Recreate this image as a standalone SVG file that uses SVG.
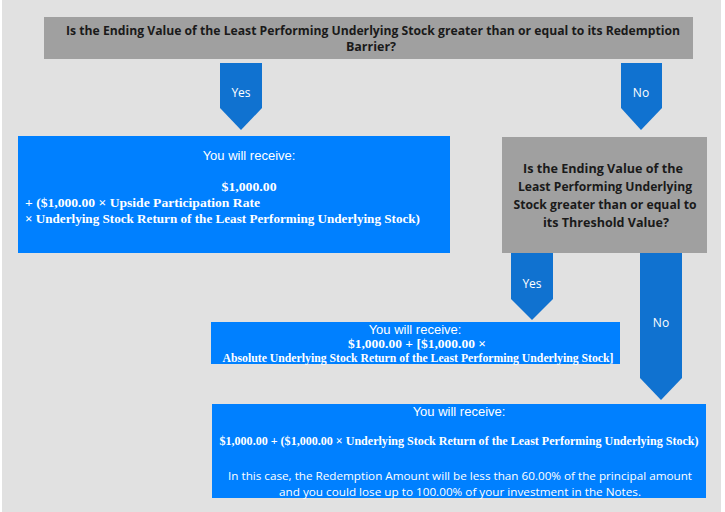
<svg xmlns="http://www.w3.org/2000/svg" width="725" height="512" viewBox="0 0 725 512">
<style>
.bg{fill:#e1e1e1}
.q{fill:#a0a0a0}
.box{fill:#0080ff}
.arr{fill:#1072d0}
.qt{font-family:"Open Sans","Liberation Sans",sans-serif;font-weight:bold;font-size:12.5px;fill:#1a1a1a;text-anchor:middle}
.al{font-family:"Open Sans","Liberation Sans",sans-serif;font-size:12px;fill:#ffffff;text-anchor:middle}
.h{font-family:"Liberation Sans",Arial,sans-serif;font-size:13px;fill:#ffffff;text-anchor:middle}
.f{font-family:"Liberation Serif","DejaVu Serif",serif;font-weight:bold;font-size:12px;fill:#ffffff}
.c{text-anchor:middle}
.n{font-family:"Open Sans","Liberation Sans",sans-serif;font-size:11px;fill:#ffffff;text-anchor:middle}
</style>
<rect class="bg" x="2" y="0" width="719" height="512"/>
<g id="connectors">
<path class="arr" d="M220,63 H262 V108 L241,130 L220,108 Z"/>
<text class="al" x="241" y="97">Yes</text>
<path class="arr" d="M621,63 H662 V108 L641,130 L621,108 Z"/>
<text class="al" x="641" y="97">No</text>
<path class="arr" d="M511,253 H553 V299 L532,320 L511,299 Z"/>
<text class="al" x="532" y="288">Yes</text>
<path class="arr" d="M640,253 H682 V378 L661,400 L640,378 Z"/>
<text class="al" x="661" y="327">No</text>
</g>
<g id="q1">
<rect class="q" x="44" y="17" width="649" height="42"/>
<text class="qt" x="373" y="35" textLength="614" lengthAdjust="spacingAndGlyphs">Is the Ending Value of the Least Performing Underlying Stock greater than or equal to its Redemption</text>
<text class="qt" x="371" y="51">Barrier?</text>
</g>
<g id="yes1">
<rect class="box" x="18" y="136" width="432" height="117"/>
<text class="h" x="249" y="160">You will receive:</text>
<text class="f c" x="249" y="191" textLength="55" lengthAdjust="spacingAndGlyphs">$1,000.00</text>
<text class="f" x="25" y="207" textLength="235" lengthAdjust="spacingAndGlyphs">+ ($1,000.00 × Upside Participation Rate</text>
<text class="f" x="25" y="223" textLength="395" lengthAdjust="spacingAndGlyphs">× Underlying Stock Return of the Least Performing Underlying Stock)</text>
</g>
<g id="q2">
<rect class="q" x="502" y="137" width="205" height="116"/>
<text class="qt" x="603" y="173" textLength="160" lengthAdjust="spacingAndGlyphs">Is the Ending Value of the</text>
<text class="qt" x="605" y="191" textLength="174" lengthAdjust="spacingAndGlyphs">Least Performing Underlying</text>
<text class="qt" x="605" y="209" textLength="183" lengthAdjust="spacingAndGlyphs">Stock greater than or equal to</text>
<text class="qt" x="606" y="227" textLength="126" lengthAdjust="spacingAndGlyphs">its Threshold Value?</text>
</g>
<g id="yes2">
<rect class="box" x="211" y="322" width="409" height="42"/>
<text class="h" x="415" y="334">You will receive:</text>
<text class="f c" x="417" y="348" textLength="138" lengthAdjust="spacingAndGlyphs">$1,000.00 +  [$1,000.00  ×</text>
<text class="f c" x="418" y="362" textLength="391" lengthAdjust="spacingAndGlyphs">Absolute Underlying Stock Return of the Least Performing Underlying Stock]</text>
</g>
<g id="no2">
<rect class="box" x="212" y="404" width="494" height="94"/>
<text class="h" x="459" y="416">You will receive:</text>
<text class="f c" x="459" y="445" textLength="479" lengthAdjust="spacingAndGlyphs">$1,000.00 + ($1,000.00 × Underlying Stock Return of the Least Performing Underlying Stock)</text>
<text class="n" x="460" y="480" textLength="464" lengthAdjust="spacingAndGlyphs">In this case, the Redemption Amount will be less than 60.00% of the principal amount</text>
<text class="n" x="460" y="496" textLength="362" lengthAdjust="spacingAndGlyphs">and you could lose up to 100.00% of your investment in the Notes.</text>
</g>
</svg>
